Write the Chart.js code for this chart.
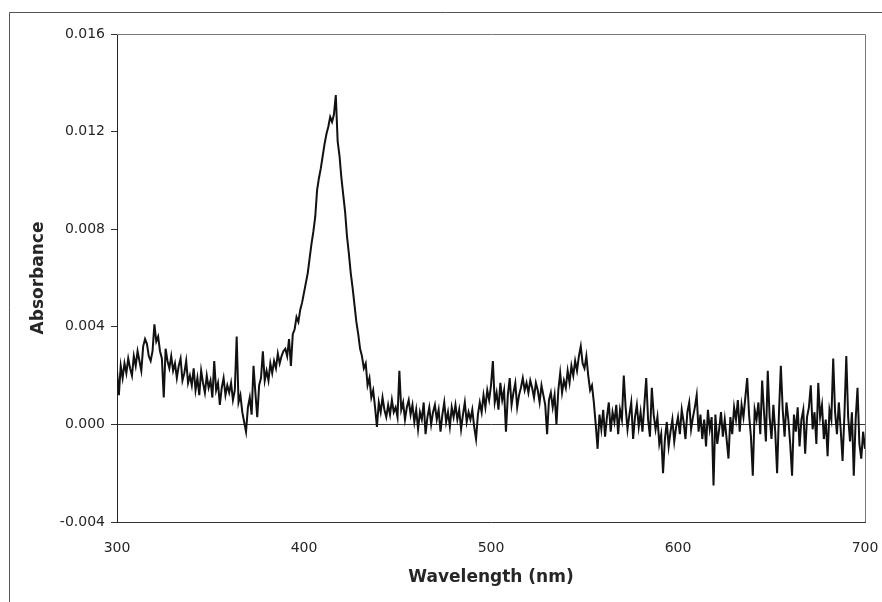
<!DOCTYPE html>
<html>
<head>
<meta charset="utf-8">
<script src="https://cdn.jsdelivr.net/npm/chart.js@4.4.1/dist/chart.umd.min.js"></script>
<style>
  html, body { margin: 0; padding: 0; background: #fff; }
  #wrap { width: 882px; height: 602px; position: relative; }
</style>
</head>
<body>
<div id="wrap"><canvas id="js--chart--spectrum"></canvas></div>
<script>
// spectrum sampled every 1 nm from 300 to 700 nm
const startNm = 300;
const stepNm = 1;

const absorbance = [
  0.0022, 0.0012, 0.0024, 0.0019, 0.0025, 0.0021, 0.0027, 0.0023, 0.0020, 0.0028,
  0.0024, 0.0030, 0.0026, 0.0022, 0.0032, 0.0035, 0.0033, 0.0028, 0.0026, 0.0030,
  0.0041, 0.0034, 0.0036, 0.0030, 0.0027, 0.0011, 0.0031, 0.0026, 0.0023, 0.0028,
  0.0022, 0.0025, 0.0019, 0.0024, 0.0027, 0.0018, 0.0021, 0.0026, 0.0017, 0.0020,
  0.0016, 0.0023, 0.0014, 0.0019, 0.0012, 0.0022, 0.0017, 0.0013, 0.0020, 0.0015,
  0.0018, 0.0011, 0.0026, 0.0014, 0.0017, 0.0008, 0.0015, 0.0019, 0.0012, 0.0016,
  0.0013, 0.0017, 0.0010, 0.0014, 0.0036, 0.0009, 0.0012, 0.0005, 0.0001, -0.0003,
  0.0007, 0.0011, 0.0004, 0.0024, 0.0013, 0.0003, 0.0016, 0.0019, 0.0030, 0.0018,
  0.0022, 0.0018, 0.0025, 0.0021, 0.0026, 0.0023, 0.0029, 0.0025, 0.0028, 0.0030,
  0.0031, 0.0028, 0.0035, 0.0024, 0.0037, 0.0039, 0.0044, 0.0042, 0.0047, 0.0050,
  0.0054, 0.0058, 0.0062, 0.0068, 0.0074, 0.0079, 0.0085, 0.0096, 0.0101, 0.0105,
  0.0110, 0.0115, 0.0119, 0.0122, 0.0126, 0.0124, 0.0127, 0.0135, 0.0116, 0.0110,
  0.0101, 0.0094, 0.0087, 0.0077, 0.0070, 0.0062, 0.0056, 0.0049, 0.0042, 0.0037,
  0.0031, 0.0028, 0.0023, 0.0025, 0.0016, 0.0019, 0.0011, 0.0014, 0.0007, -0.0001,
  0.0009, 0.0005, 0.0011, 0.0006, 0.0003, 0.0008, 0.0004, 0.0010, 0.0005, 0.0007,
  0.0003, 0.0022, 0.0006, 0.0009, 0.0002, 0.0007, 0.0010, 0.0004, 0.0008, 0.0001,
  0.0006, -0.0002, 0.0005, 0.0002, 0.0009, -0.0004, 0.0003, 0.0007, 0.0000, 0.0005,
  0.0008, 0.0002, 0.0006, -0.0003, 0.0004, 0.0009, 0.0001, 0.0005, -0.0001, 0.0007,
  0.0003, 0.0008, 0.0002, 0.0006, -0.0002, 0.0004, 0.0009, 0.0001, 0.0005, 0.0002,
  0.0006, -0.0001, -0.0006, 0.0004, 0.0009, 0.0005, 0.0012, 0.0007, 0.0014, 0.0010,
  0.0016, 0.0026, 0.0009, 0.0013, 0.0006, 0.0017, 0.0010, 0.0014, -0.0003, 0.0012,
  0.0019, 0.0008, 0.0013, 0.0017, 0.0007, 0.0012, 0.0015, 0.0019, 0.0014, 0.0017,
  0.0013, 0.0018, 0.0015, 0.0011, 0.0017, 0.0014, 0.0009, 0.0016, 0.0012, 0.0008,
  -0.0004, 0.0010, 0.0013, 0.0007, 0.0012, 0.0000, 0.0014, 0.0021, 0.0013, 0.0018,
  0.0015, 0.0022, 0.0017, 0.0024, 0.0020, 0.0026, 0.0022, 0.0028, 0.0032, 0.0025,
  0.0023, 0.0028, 0.0020, 0.0014, 0.0016, 0.0009, 0.0000, -0.0010, 0.0004, -0.0002,
  0.0006, -0.0005, 0.0003, 0.0009, -0.0003, 0.0005, 0.0001, 0.0008, -0.0004, 0.0006,
  0.0002, 0.0020, 0.0007, -0.0002, 0.0004, 0.0009, -0.0006, 0.0003, 0.0008, -0.0001,
  0.0005, -0.0003, 0.0008, 0.0019, 0.0002, -0.0005, 0.0015, 0.0004, -0.0002, 0.0003,
  -0.0008, -0.0004, -0.0020, -0.0006, 0.0001, -0.0009, -0.0003, 0.0002, -0.0007, -0.0001,
  0.0003, -0.0004, 0.0006, 0.0001, -0.0006, 0.0005, 0.0009, -0.0002, 0.0003, 0.0007,
  0.0012, -0.0003, 0.0004, -0.0006, 0.0002, -0.0009, 0.0006, -0.0002, 0.0003, -0.0025,
  0.0004, -0.0008, -0.0002, 0.0005, -0.0005, 0.0002, -0.0006, -0.0014, 0.0003, -0.0004,
  0.0007, 0.0002, 0.0010, -0.0003, 0.0008, 0.0003, 0.0011, 0.0019, 0.0004, -0.0005,
  -0.0021, 0.0006, 0.0002, 0.0009, -0.0004, 0.0018, 0.0005, -0.0007, 0.0022, 0.0003,
  -0.0006, 0.0008, -0.0003, -0.0020, 0.0005, 0.0024, 0.0006, -0.0005, 0.0009, 0.0002,
  -0.0008, -0.0021, 0.0004, -0.0003, 0.0007, -0.0009, 0.0002, 0.0006, -0.0012, 0.0003,
  0.0007, 0.0016, -0.0002, 0.0005, -0.0008, 0.0017, 0.0003, 0.0008, -0.0006, 0.0002,
  -0.0013, 0.0006, 0.0002, 0.0027, 0.0005, -0.0004, 0.0009, -0.0002, -0.0015, 0.0004,
  0.0028, 0.0003, -0.0007, 0.0005, -0.0021, 0.0002, 0.0015, -0.0008, -0.0014, -0.0003,
  -0.0010
];

const xTicks = [300, 400, 500, 600, 700];
const yTicks = [-0.004, 0.000, 0.004, 0.008, 0.012, 0.016];

const points = absorbance.map(function (a, i) {
  return { x: startNm + i * stepNm, y: a };
});

// outer frame plus top/right edges of the plot box
const frames = {
  id: 'frames',
  afterDraw: function (chart) {
    const ctx = chart.ctx;
    const area = chart.chartArea;
    ctx.save();
    ctx.lineWidth = 1;
    ctx.strokeStyle = '#555';
    ctx.beginPath();
    ctx.moveTo(9.5, 602);
    ctx.lineTo(9.5, 12.5);
    ctx.lineTo(882, 12.5);
    ctx.stroke();
    ctx.strokeStyle = '#777';
    ctx.beginPath();
    ctx.moveTo(area.left, Math.round(area.top) + 0.5);
    ctx.lineTo(Math.round(area.right) + 0.5, Math.round(area.top) + 0.5);
    ctx.lineTo(Math.round(area.right) + 0.5, area.bottom);
    ctx.stroke();
    ctx.restore();
  }
};

Chart.defaults.font.family = '"DejaVu Sans", "Liberation Sans", Arial, sans-serif';
Chart.defaults.color = '#262626';

new Chart(document.getElementById('js--chart--spectrum'), {
  type: 'line',
  data: {
    datasets: [{
      data: points,
      borderColor: '#111',
      borderWidth: 2,
      pointRadius: 0,
      tension: 0,
      fill: false
    }]
  },
  options: {
    responsive: true,
    maintainAspectRatio: false,
    animation: false,
    events: [],
    layout: { padding: { left: 0, top: 34, right: 17, bottom: 0 } },
    plugins: {
      legend: { display: false },
      tooltip: { enabled: false }
    },
    scales: {
      x: {
        type: 'linear',
        min: 300,
        max: 700,
        afterBuildTicks: function (axis) {
          axis.ticks = xTicks.map(function (v) { return { value: v }; });
        },
        afterFit: function (axis) {
          axis.height = 80;
          axis.paddingLeft = 0;
          axis.paddingRight = 0;
        },
        grid: { display: false, drawTicks: false },
        border: { display: true, color: '#333', width: 1 },
        ticks: { font: { size: 14 }, padding: 18, maxRotation: 0 },
        title: {
          display: true,
          text: 'Wavelength (nm)',
          font: { size: 17, weight: 'bold' },
          padding: { top: 0, bottom: 14 }
        }
      },
      y: {
        min: -0.004,
        max: 0.016,
        afterBuildTicks: function (axis) {
          axis.ticks = yTicks.map(function (v) { return { value: v }; });
        },
        afterFit: function (axis) { axis.width = 117; },
        grid: {
          drawOnChartArea: true,
          tickLength: 6,
          tickColor: '#333',
          color: function (c) {
            return c.tick && Math.abs(c.tick.value) < 1e-9 ? '#333' : 'rgba(0,0,0,0)';
          }
        },
        border: { display: true, color: '#222', width: 1 },
        ticks: {
          font: { size: 14 },
          padding: 6,
          callback: function (v) { return v.toFixed(3); }
        },
        title: {
          display: true,
          text: 'Absorbance',
          font: { size: 17, weight: 'bold' },
          padding: { top: 28, bottom: 0 }
        }
      }
    }
  },
  plugins: [frames]
});
</script>
</body>
</html>
